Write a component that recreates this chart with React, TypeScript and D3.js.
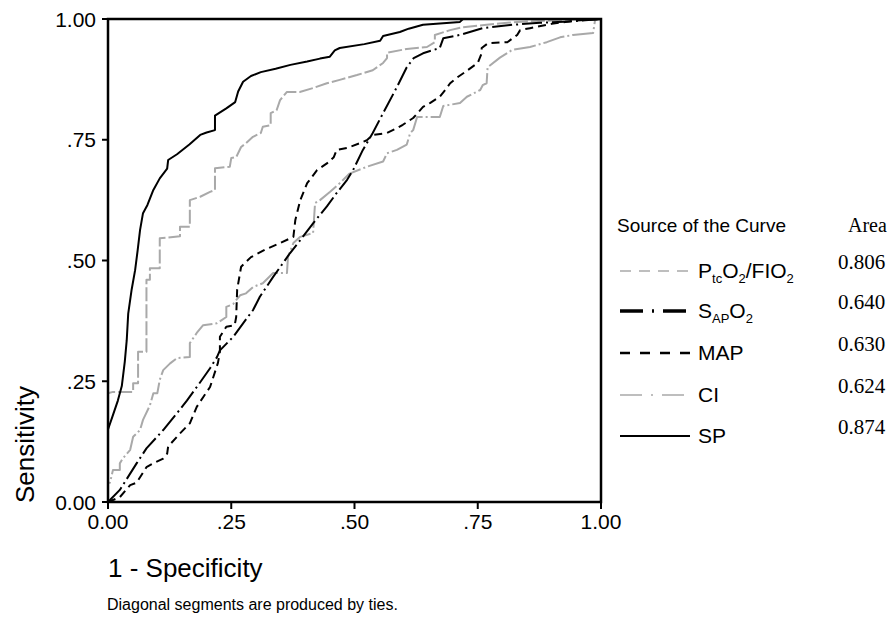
import React from "react";
import * as d3 from "d3";

type Pt = [number, number];

const tickValues = [0, 0.25, 0.5, 0.75, 1];
const tickLabels = ["0.00", ".25", ".50", ".75", "1.00"];

const spData: Pt[] = [
  [0, 0], [0, 0.15], [0.01, 0.18], [0.02, 0.21], [0.028, 0.24], [0.034, 0.29], [0.038, 0.335],
  [0.041, 0.39], [0.048, 0.44], [0.055, 0.48], [0.06, 0.52], [0.065, 0.563], [0.071, 0.598],
  [0.08, 0.615], [0.092, 0.646], [0.105, 0.67], [0.12, 0.69], [0.122, 0.708], [0.14, 0.72],
  [0.165, 0.74], [0.187, 0.76], [0.2, 0.765], [0.217, 0.77], [0.217, 0.8], [0.24, 0.815],
  [0.258, 0.828], [0.264, 0.85], [0.274, 0.87], [0.29, 0.882], [0.31, 0.89], [0.34, 0.897],
  [0.37, 0.905], [0.404, 0.912], [0.43, 0.918], [0.45, 0.922], [0.46, 0.935], [0.47, 0.94],
  [0.52, 0.948], [0.552, 0.955], [0.558, 0.965], [0.592, 0.973], [0.61, 0.98], [0.639, 0.988],
  [0.714, 0.994], [0.72, 1], [1, 1],
];

const ptcData: Pt[] = [
  [0, 0], [0, 0.225], [0.01, 0.228], [0.051, 0.228], [0.051, 0.246], [0.061, 0.246], [0.061, 0.311],
  [0.078, 0.311], [0.078, 0.46], [0.085, 0.46], [0.085, 0.484], [0.105, 0.484], [0.105, 0.546],
  [0.146, 0.55], [0.146, 0.57], [0.166, 0.57], [0.166, 0.625], [0.187, 0.632], [0.207, 0.642],
  [0.217, 0.646], [0.217, 0.691], [0.247, 0.694], [0.25, 0.712], [0.26, 0.714], [0.27, 0.735],
  [0.28, 0.743], [0.294, 0.756], [0.31, 0.764], [0.314, 0.777], [0.33, 0.78], [0.33, 0.805],
  [0.342, 0.811], [0.349, 0.832], [0.363, 0.849], [0.389, 0.849], [0.416, 0.857], [0.444, 0.867],
  [0.47, 0.874], [0.505, 0.884], [0.537, 0.894], [0.558, 0.909], [0.566, 0.919], [0.566, 0.93],
  [0.606, 0.938], [0.647, 0.942], [0.663, 0.952], [0.663, 0.967], [0.694, 0.977], [0.72, 0.983],
  [0.768, 0.988], [0.83, 0.994], [0.93, 0.998], [1, 1],
];

const sapData: Pt[] = [
  [0, 0], [0.024, 0.025], [0.058, 0.08], [0.078, 0.111], [0.112, 0.149], [0.14, 0.184],
  [0.16, 0.21], [0.187, 0.248], [0.207, 0.277], [0.221, 0.3], [0.227, 0.314], [0.254, 0.342],
  [0.274, 0.37], [0.294, 0.397], [0.308, 0.425], [0.335, 0.466], [0.369, 0.515], [0.39, 0.542],
  [0.416, 0.577], [0.444, 0.612], [0.464, 0.64], [0.485, 0.667], [0.497, 0.687], [0.517, 0.729],
  [0.537, 0.764], [0.558, 0.805], [0.586, 0.859], [0.606, 0.9], [0.62, 0.919], [0.639, 0.929],
  [0.673, 0.94], [0.68, 0.96], [0.714, 0.967], [0.76, 0.981], [0.82, 0.988], [0.876, 0.992],
  [0.937, 0.995], [1, 1],
];

const mapData: Pt[] = [
  [0, 0], [0.024, 0.01], [0.045, 0.035], [0.058, 0.04], [0.078, 0.072], [0.092, 0.08],
  [0.112, 0.09], [0.12, 0.1], [0.122, 0.115], [0.146, 0.142], [0.166, 0.163], [0.18, 0.197],
  [0.193, 0.217], [0.207, 0.238], [0.223, 0.288], [0.227, 0.311], [0.227, 0.342], [0.24, 0.363],
  [0.257, 0.366], [0.26, 0.383], [0.262, 0.44], [0.27, 0.487], [0.29, 0.507], [0.318, 0.522],
  [0.349, 0.536], [0.376, 0.549], [0.38, 0.584], [0.39, 0.625], [0.404, 0.66], [0.424, 0.687],
  [0.444, 0.701], [0.458, 0.714], [0.464, 0.729], [0.485, 0.733], [0.511, 0.743], [0.525, 0.749],
  [0.537, 0.76], [0.566, 0.764], [0.586, 0.774], [0.598, 0.781], [0.619, 0.795], [0.639, 0.818],
  [0.653, 0.826], [0.673, 0.839], [0.684, 0.853], [0.694, 0.867], [0.707, 0.878], [0.724, 0.89],
  [0.75, 0.909], [0.758, 0.929], [0.758, 0.94], [0.771, 0.95], [0.81, 0.952], [0.83, 0.967],
  [0.836, 0.977], [0.856, 0.981], [0.9, 0.99], [0.95, 0.997], [1, 1],
];

const ciData: Pt[] = [
  [0, 0], [0, 0.04], [0.004, 0.04], [0.01, 0.066], [0.024, 0.066], [0.024, 0.08], [0.03, 0.09],
  [0.045, 0.108], [0.051, 0.135], [0.065, 0.149], [0.071, 0.17], [0.085, 0.2], [0.092, 0.225],
  [0.1, 0.225], [0.105, 0.253], [0.112, 0.273], [0.126, 0.287], [0.14, 0.298], [0.166, 0.3],
  [0.166, 0.329], [0.18, 0.35], [0.193, 0.366], [0.221, 0.37], [0.24, 0.383], [0.24, 0.404],
  [0.254, 0.41], [0.26, 0.418], [0.268, 0.428], [0.28, 0.432], [0.294, 0.445], [0.314, 0.453],
  [0.335, 0.474], [0.363, 0.474], [0.365, 0.507], [0.376, 0.536], [0.39, 0.549], [0.416, 0.557],
  [0.42, 0.619], [0.43, 0.625], [0.45, 0.642], [0.47, 0.66], [0.49, 0.68], [0.525, 0.694],
  [0.558, 0.705], [0.566, 0.722], [0.586, 0.729], [0.606, 0.74], [0.613, 0.764], [0.619, 0.77],
  [0.627, 0.797], [0.673, 0.797], [0.68, 0.82], [0.714, 0.826], [0.728, 0.839], [0.755, 0.853],
  [0.76, 0.863], [0.768, 0.867], [0.77, 0.9], [0.795, 0.92], [0.82, 0.936], [0.856, 0.942],
  [0.89, 0.952], [0.917, 0.962], [0.943, 0.967], [0.984, 0.971], [0.988, 0.998], [1, 1],
];

const seriesNames = ["PtcO2/FIO2", "SAPO2", "MAP", "CI", "SP"];
const areaValues = ["0.806", "0.640", "0.630", "0.624", "0.874"];

const SANS = "'Liberation Sans', Arial, sans-serif";
const SERIF = "'Liberation Serif', 'Times New Roman', serif";
const GRAY = "#a9a9a9";

const styles: Record<string, { color: string; width: number; dash: string; legWidth: number; legDash: string }> = {
  "PtcO2/FIO2": { color: GRAY, width: 2, dash: "14,3", legWidth: 1.5, legDash: "11,8" },
  SAPO2: { color: "#000", width: 2, dash: "20,4,2,4", legWidth: 3.5, legDash: "23,9,2,9" },
  MAP: { color: "#000", width: 2, dash: "8,5", legWidth: 2.5, legDash: "10,10" },
  CI: { color: GRAY, width: 2, dash: "22,3,2,3", legWidth: 1.5, legDash: "22,9,2,9" },
  SP: { color: "#000", width: 2, dash: "", legWidth: 2, legDash: "" },
};

const dataByName: Record<string, Pt[]> = {
  "PtcO2/FIO2": ptcData,
  SAPO2: sapData,
  MAP: mapData,
  CI: ciData,
  SP: spData,
};

function LegendLabel({ name, x, y }: { name: string; x: number; y: number }) {
  const fs = 21;
  if (name === "PtcO2/FIO2") {
    return (
      <text x={x} y={y} fontFamily={SANS} fontSize={fs}>
        P<tspan dy={5} fontSize={13}>tc</tspan>
        <tspan dy={-5}>O</tspan>
        <tspan dy={5} fontSize={13}>2</tspan>
        <tspan dy={-5}>/FIO</tspan>
        <tspan dy={5} fontSize={13}>2</tspan>
      </text>
    );
  }
  if (name === "SAPO2") {
    return (
      <text x={x} y={y} fontFamily={SANS} fontSize={fs}>
        S<tspan dy={5} fontSize={13}>AP</tspan>
        <tspan dy={-5}>O</tspan>
        <tspan dy={5} fontSize={13}>2</tspan>
      </text>
    );
  }
  return (
    <text x={x} y={y} fontFamily={SANS} fontSize={fs}>
      {name}
    </text>
  );
}

export default function App() {
  const W = 895;
  const H = 620;
  const x = d3.scaleLinear().domain([0, 1]).range([108, 601]);
  const y = d3.scaleLinear().domain([0, 1]).range([502, 19]);
  const line = d3
    .line<Pt>()
    .x((d) => x(d[0]))
    .y((d) => y(d[1]));

  const drawOrder = ["CI", "PtcO2/FIO2", "MAP", "SAPO2", "SP"];
  const legendRowsY = [271, 311, 353, 395, 436];

  return (
    <svg
      width={W}
      height={H}
      viewBox={`0 0 ${W} ${H}`}
      style={{ position: "absolute", left: 0, top: 0, background: "#fff" }}
    >
      <rect x={0} y={0} width={W} height={H} fill="#fff" />
      {drawOrder.map((name) => {
        const s = styles[name];
        return (
          <path
            key={name}
            d={line(dataByName[name]) || ""}
            fill="none"
            stroke={s.color}
            strokeWidth={s.width}
            strokeDasharray={s.dash || undefined}
            strokeLinejoin="round"
          />
        );
      })}
      <rect
        x={x(0)}
        y={y(1)}
        width={x(1) - x(0)}
        height={y(0) - y(1)}
        fill="none"
        stroke="#000"
        strokeWidth={2.5}
      />
      {tickValues.map((v, i) => (
        <g key={"yt" + i}>
          <line x1={x(0) - 6} x2={x(0)} y1={y(v)} y2={y(v)} stroke="#000" strokeWidth={2} />
          <text x={96} y={y(v)} dy="0.36em" textAnchor="end" fontFamily={SANS} fontSize={21}>
            {tickLabels[i]}
          </text>
        </g>
      ))}
      {tickValues.map((v, i) => (
        <g key={"xt" + i}>
          <line x1={x(v)} x2={x(v)} y1={y(0)} y2={y(0) + 7} stroke="#000" strokeWidth={2} />
          <text x={x(v)} y={529} textAnchor="middle" fontFamily={SANS} fontSize={21}>
            {tickLabels[i]}
          </text>
        </g>
      ))}
      <text transform={`translate(34, 503) rotate(-90)`} textAnchor="start" fontFamily={SANS} fontSize={26}>
        Sensitivity
      </text>
      <text x={108} y={577} fontFamily={SANS} fontSize={26}>
        1 - Specificity
      </text>
      <text x={107} y={610} fontFamily={SANS} fontSize={16}>
        Diagonal segments are produced by ties.
      </text>
      <text x={617} y={232} fontFamily={SANS} fontSize={19}>
        Source of the Curve
      </text>
      <text x={848} y={232} fontFamily={SERIF} fontSize={20}>
        Area
      </text>
      {seriesNames.map((name, i) => {
        const s = styles[name];
        const ly = legendRowsY[i];
        return (
          <g key={"lg" + name}>
            <line
              x1={620}
              x2={690}
              y1={ly}
              y2={ly}
              stroke={s.color}
              strokeWidth={s.legWidth}
              strokeDasharray={s.legDash || undefined}
            />
            <LegendLabel name={name} x={698} y={ly + 7} />
            <text x={838} y={ly - 2} fontFamily={SERIF} fontSize={21}>
              {areaValues[i]}
            </text>
          </g>
        );
      })}
    </svg>
  );
}
